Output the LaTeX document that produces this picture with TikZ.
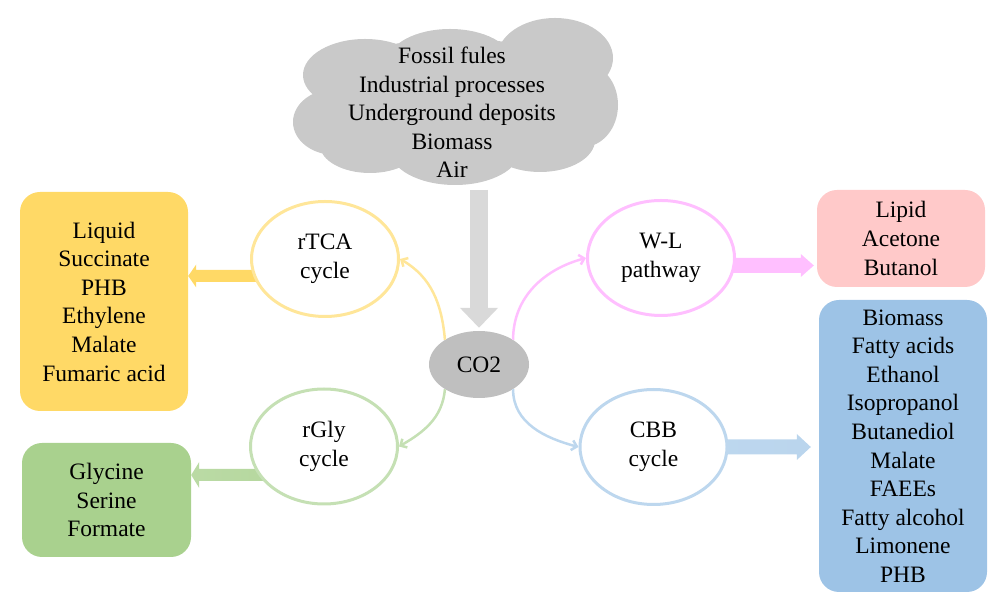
\documentclass[tikz,border=0pt]{standalone}
\usepackage{fontspec}
\newfontfamily\tnr{Liberation Serif}
\usetikzlibrary{shapes.geometric,arrows.meta,calc}
\definecolor{ybox}{HTML}{FFD966}
\definecolor{ystroke}{HTML}{FFE699}
\definecolor{gbox}{HTML}{A9D18E}
\definecolor{gstroke}{HTML}{C5E0B4}
\definecolor{pbox}{HTML}{FFC9C9}
\definecolor{pstroke}{HTML}{FFBFFF}
\definecolor{bbox}{HTML}{9DC3E6}
\definecolor{bstroke}{HTML}{BDD7EE}
\definecolor{cogray}{HTML}{BFBFBF}
\definecolor{arrowgray}{HTML}{D9D9D9}
\definecolor{cloudgray}{HTML}{C9C9C9}
\begin{document}
\begin{tikzpicture}[x=1pt,y=1pt,
  font=\tnr\fontsize{23.5}{28.6}\selectfont,
  prodbox/.style={rounded corners=20pt, align=center, inner sep=0pt},
  cyc/.style={ellipse, line width=3pt, fill=white, align=center, inner sep=0pt,
    minimum width=147pt, minimum height=115pt},
  curv/.style={line width=2.5pt, -{Straight Barb[length=5pt,width=10pt]}}]
\useasboundingbox (0,0) rectangle (1000,607);

% cloud (union of ellipses)
\fill[cloudgray]
  (455,507) ellipse [x radius=140, y radius=62]
  (335,485) ellipse [x radius=42, y radius=33]
  (365,532) ellipse [x radius=62, y radius=36]
  (450,545) ellipse [x radius=62, y radius=33]
  (555,549) ellipse [x radius=58, y radius=40]
  (583,502) ellipse [x radius=35, y radius=42]
  (540,467) ellipse [x radius=55, y radius=32]
  (455,457) ellipse [x radius=65, y radius=35]
  (370,462) ellipse [x radius=50, y radius=28];
\node[align=center] (cloud) at (452,494.5)
  {Fossil fules\\Industrial processes\\Underground deposits\\Biomass\\Air};

% product boxes
\node[prodbox, fill=ybox, minimum width=168pt, minimum height=219pt] (yb) at (104,305.5)
  {Liquid\\Succinate\\PHB\\Ethylene\\Malate\\Fumaric acid};
\node[prodbox, fill=gbox, minimum width=169pt, minimum height=114pt] (gb) at (106.5,107)
  {Glycine\\Serine\\Formate};
\node[prodbox, fill=pbox, minimum width=168pt, minimum height=97pt] (pb) at (901,368.5)
  {Lipid\\Acetone\\Butanol};
\node[prodbox, fill=bbox, minimum width=168pt, minimum height=292pt] (bb) at (903,161)
  {Biomass\\Fatty acids\\Ethanol\\Isopropanol\\Butanediol\\Malate\\FAEEs\\Fatty alcohol\\Limonene\\PHB};

% CO2
\node[ellipse, fill=cogray, minimum width=100pt, minimum height=67pt, inner sep=0pt] (co2) at (479,242.5) {CO2};

% gray arrow
\coordinate (gtop) at (479,417);
\draw[line width=18pt, draw=arrowgray, -{Triangle[length=20pt,width=37pt]}]
  (co2.north |- gtop) -- ($(co2.north)+(0,3)$);

% centres of the cycle ellipses
\path (325,348) coordinate (rtcac) (324,160.5) coordinate (rglyc)
      (661,349) coordinate (wlc) (653.5,160) coordinate (cbbc);

% block arrows (drawn before the ellipses)
\coordinate (ys) at ($(rtcac)+(-60,-17)$);
\coordinate (yt) at (yb.east |- ys);
\shade[left color=ybox, middle color=ystroke!70!white, right color=ybox]
  ($(ys)+(0,6)$) -- ($(yt)+(8,6)$) -- ($(yt)+(8,11.5)$) -- (yt) -- ($(yt)+(8,-11.5)$)
  -- ($(yt)+(8,-6)$) -- ($(ys)+(0,-6)$) -- cycle;

\coordinate (gs) at ($(rglyc)+(-55,-28.5)$);
\coordinate (gt) at (gb.east |- gs);
\shade[left color=gbox!80!white, middle color=gstroke!85!white, right color=gbox!85!white]
  ($(gs)+(0,6)$) -- ($(gt)+(8,6)$) -- ($(gt)+(8,13)$) -- (gt) -- ($(gt)+(8,-13)$)
  -- ($(gt)+(8,-6)$) -- ($(gs)+(0,-6)$) -- cycle;

\coordinate (ps) at ($(wlc)+(60,-7.5)$);
\coordinate (pt) at ($(pb.west |- ps)+(-3,0)$);
\shade[left color=pstroke, middle color=pbox!90!pstroke, right color=pstroke]
  ($(ps)+(0,7.5)$) -- ($(pt)+(-13,7.5)$) -- ($(pt)+(-13,11.5)$) -- (pt) -- ($(pt)+(-13,-11.5)$)
  -- ($(pt)+(-13,-7.5)$) -- ($(ps)+(0,-7.5)$) -- cycle;

\coordinate (bs) at ($(cbbc)+(60,0)$);
\coordinate (bt) at ($(bb.west |- bs)+(-8,0)$);
\shade[left color=bstroke, middle color=bbox!85!white, right color=bstroke!90!bbox]
  ($(bs)+(0,7.5)$) -- ($(bt)+(-14,7.5)$) -- ($(bt)+(-14,13)$) -- (bt) -- ($(bt)+(-14,-13)$)
  -- ($(bt)+(-14,-7.5)$) -- ($(bs)+(0,-7.5)$) -- cycle;

% cycles
\node[cyc, draw=ystroke] (rtca) at (rtcac) {rTCA\\cycle};
\node[cyc, draw=gstroke] (rgly) at (rglyc) {rGly\\cycle};
\node[cyc, draw=pstroke] (wl) at (wlc) {W-L\\pathway};
\node[cyc, draw=bstroke] (cbb) at (cbbc) {CBB\\cycle};

% curved connectors
\draw[curv, draw=ystroke] (co2.144) to[out=95,in=-30] (rtca.east);
\draw[curv, draw=gstroke] (co2.-144) to[out=-95,in=30] (rgly.east);
\draw[curv, draw=pstroke] (co2.36) to[out=90,in=195] (wl.west);
\draw[curv, draw=bstroke] (co2.-36) to[out=-90,in=165] (cbb.west);
\end{tikzpicture}
\end{document}
